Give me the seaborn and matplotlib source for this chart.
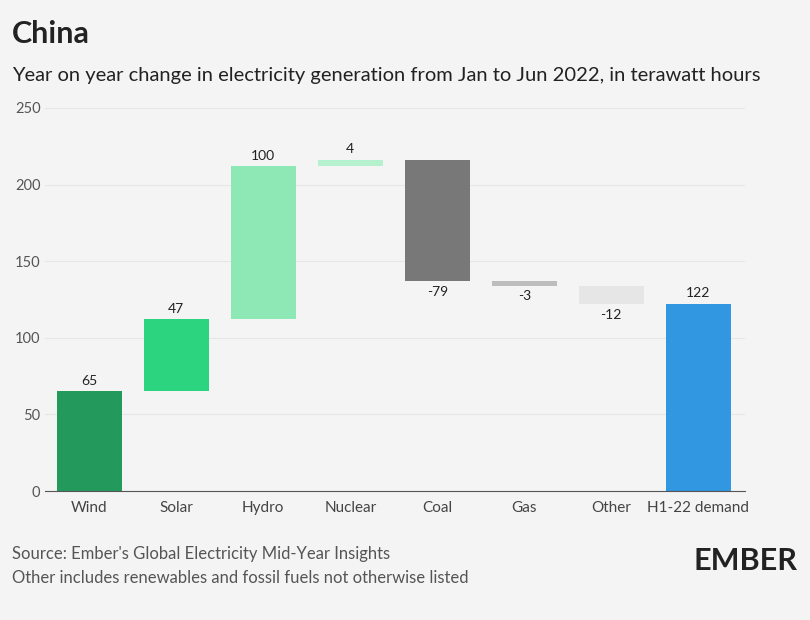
import matplotlib
matplotlib.use("Agg")
import matplotlib.pyplot as plt
import seaborn as sns
import numpy as np

categories = ["Wind", "Solar", "Hydro", "Nuclear", "Coal", "Gas", "Other", "H1-22 demand"]
changes = [65, 47, 100, 4, -79, -3, -12, 122]
colors = ["#23995c", "#2dd47f", "#8de8b5", "#b5f0cf", "#787878", "#bdbdbd", "#e6e6e6", "#3097e0"]

bases, heights = [], []
run = 0
for c, v in zip(categories, changes):
    if c == "H1-22 demand":
        bases.append(0); heights.append(v)
    else:
        bases.append(min(run, run + v)); heights.append(abs(v)); run += v

sns.set_style("white")
plt.rcParams["font.family"] = ["Lato", "DejaVu Sans"]
bg = "#f4f4f4"
fig = plt.figure(figsize=(8.1, 6.2), dpi=100, facecolor=bg)
ax = fig.add_axes([0.056, 0.208, 0.864, 0.618], facecolor=bg)
sns.barplot(x=categories, y=heights, bottom=bases, ax=ax, width=0.75, color="gray", saturation=1)
for p, col in zip(ax.patches, colors):
    p.set_facecolor(col); p.set_edgecolor("none")
for i, (b, h, v) in enumerate(zip(bases, heights, changes)):
    if v >= 0:
        ax.text(i, b + h + 3, f"{v}", ha="center", va="bottom", fontsize=10, color="#222")
    else:
        ax.text(i, b - 3, f"{v}", ha="center", va="top", fontsize=10, color="#222")
ax.set_ylim(0, 250)
ax.set_yticks([0, 50, 100, 150, 200, 250])
ax.yaxis.grid(True, color="#e6e6e6", lw=0.8)
ax.set_axisbelow(True)
for s in ["top", "right", "left"]:
    ax.spines[s].set_visible(False)
ax.spines["bottom"].set_color("#555")
ax.tick_params(axis="x", length=4, color="#555", labelsize=11, labelcolor="#444")
ax.tick_params(axis="y", length=0, labelsize=10.5, labelcolor="#555")
ax.set_xlim(-0.505, 7.54)
fig.text(0.015, 0.93, "China", fontsize=22, fontweight="bold", color="#222")
fig.text(0.015, 0.87, "Year on year change in electricity generation from Jan to Jun 2022, in terawatt hours", fontsize=14.5, color="#222")
fig.text(0.015, 0.098, "Source: Ember's Global Electricity Mid-Year Insights", fontsize=12, color="#555")
fig.text(0.015, 0.06, "Other includes renewables and fossil fuels not otherwise listed", fontsize=12, color="#555")
fig.text(0.985, 0.08, "EMBER", fontsize=22, fontweight="bold", color="#222", ha="right")
fig.savefig("out.png", dpi=100, facecolor=bg)
